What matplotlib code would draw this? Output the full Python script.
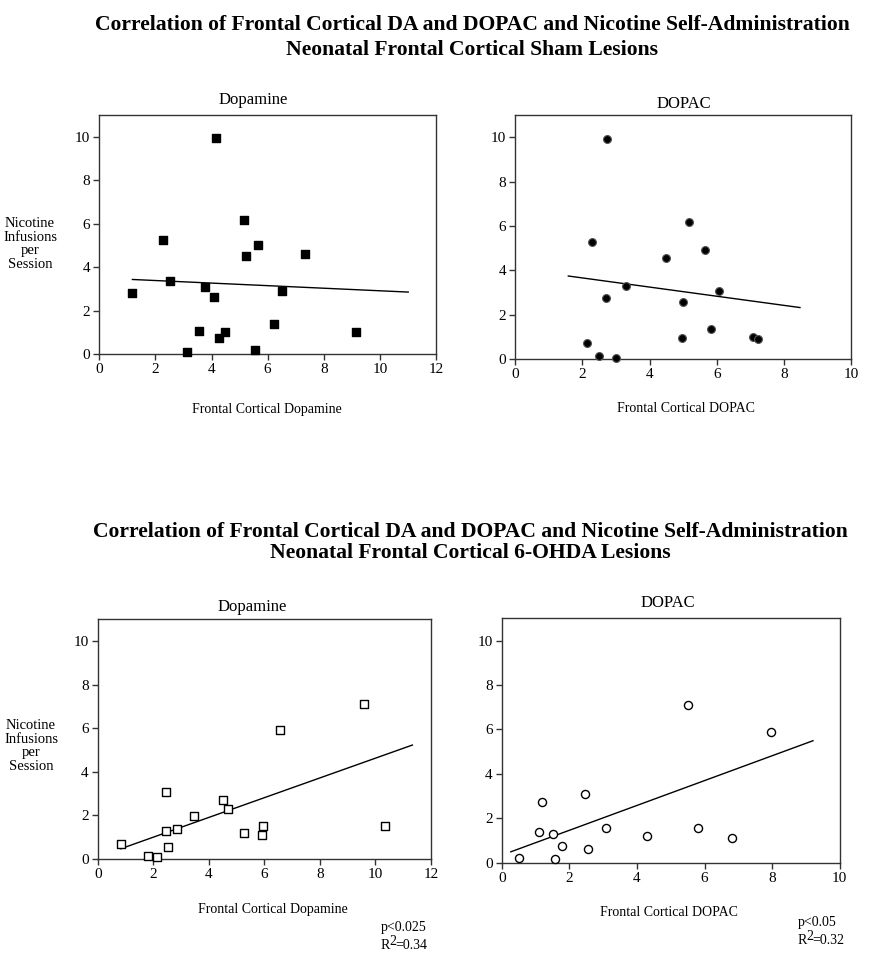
import matplotlib
matplotlib.use("Agg")
import matplotlib.pyplot as plt

plt.rcParams['font.family'] = ['Liberation Serif', 'DejaVu Serif']

# ---------------- data ----------------
# Sham lesions, dopamine
sham_da_x = [1.18, 2.26, 2.52, 3.14, 3.56, 3.78, 4.09, 4.17, 4.25, 4.48,
             5.17, 5.22, 5.56, 5.64, 6.21, 6.51, 7.33, 9.16]
sham_da_y = [2.80, 5.26, 3.35, 0.11, 1.06, 3.08, 2.62, 9.92, 0.72, 1.00,
             6.17, 4.49, 0.18, 5.00, 1.38, 2.89, 4.58, 1.00]
sham_da_fit_x = [1.18, 11.01]
sham_da_fit_y = [3.43, 2.85]

# Sham lesions, DOPAC
sham_dopac_x = [2.72, 2.27, 2.13, 2.50, 3.01, 2.71, 3.30, 4.49, 5.17, 5.00,
                4.98, 5.65, 5.84, 6.08, 7.09, 7.23]
sham_dopac_y = [9.92, 5.27, 0.72, 0.14, 0.08, 2.75, 3.29, 4.55, 6.16, 2.60,
                0.95, 4.94, 1.38, 3.08, 1.01, 0.93]
sham_dopac_fit_x = [1.58, 8.48]
sham_dopac_fit_y = [3.75, 2.33]

# 6-OHDA lesions, dopamine
ohda_da_x = [0.84, 1.81, 2.15, 2.45, 2.45, 2.54, 2.86, 3.46, 4.50, 4.69,
             5.26, 5.92, 5.95, 6.56, 9.58, 10.36]
ohda_da_y = [0.70, 0.15, 0.09, 3.09, 1.28, 0.55, 1.36, 1.98, 2.70, 2.30,
             1.20, 1.08, 1.52, 5.91, 7.13, 1.52]
ohda_da_fit_x = [0.83, 11.33]
ohda_da_fit_y = [0.47, 5.23]

# 6-OHDA lesions, DOPAC
ohda_dopac_x = [0.50, 1.19, 1.10, 1.52, 1.58, 1.79, 2.45, 2.54, 3.09, 4.31,
                5.52, 5.81, 6.81, 7.96]
ohda_dopac_y = [0.19, 2.75, 1.40, 1.28, 0.15, 0.75, 3.07, 0.60, 1.55, 1.22,
                7.09, 1.55, 1.12, 5.90]
ohda_dopac_fit_x = [0.27, 9.21]
ohda_dopac_fit_y = [0.49, 5.49]

title_line1 = "Correlation of Frontal Cortical DA and DOPAC and Nicotine Self-Administration"
title_sham = "Neonatal Frontal Cortical Sham Lesions"
title_ohda = "Neonatal Frontal Cortical 6-OHDA Lesions"
ylabel = "Nicotine\nInfusions\nper\nSession"

W, H = 879, 960
fig = plt.figure(figsize=(W / 100, H / 100), dpi=100)


def rect(l, r, t, b):
    return [l / W, 1 - b / H, (r - l) / W, (b - t) / H]


def ftext(x, y, s, **kw):
    fig.text(x / W, 1 - y / H, s, **kw)


def make_ax(r, xmax):
    ax = fig.add_axes(r)
    ax.set_xlim(0, xmax)
    ax.set_ylim(0, 11)
    ax.set_xticks(range(0, xmax + 1, 2))
    ax.set_yticks(range(0, 11, 2))
    for sp in ax.spines.values():
        sp.set_linewidth(1.0)
        sp.set_color('#333333')
    ax.tick_params(direction='out', length=4.5, width=1.0, color='#333333',
                   labelsize=11, pad=2)
    return ax


# Panel 1
ax1 = make_ax(rect(99.3, 436, 115, 354), 12)
ax1.scatter(sham_da_x, sham_da_y, marker='s', s=30, c='black', zorder=3, clip_on=False)
ax1.plot(sham_da_fit_x, sham_da_fit_y, color='black', lw=1)

# Panel 2
ax2 = make_ax(rect(515.3, 851, 115, 359.3), 10)
ax2.scatter(sham_dopac_x, sham_dopac_y, marker='o', s=32, c='black',
            edgecolors='#555555', linewidths=0.8, zorder=3, clip_on=False)
ax2.plot(sham_dopac_fit_x, sham_dopac_fit_y, color='black', lw=1)

# Panel 3
ax3 = make_ax(rect(97.7, 431, 619.3, 859), 12)
ax3.scatter(ohda_da_x, ohda_da_y, marker='s', s=34, facecolors='white',
            edgecolors='black', linewidths=1.0, zorder=3, clip_on=False)
ax3.plot(ohda_da_fit_x, ohda_da_fit_y, color='black', lw=1)

# Panel 4
ax4 = make_ax(rect(501.7, 839.7, 618.3, 862.7), 10)
ax4.scatter(ohda_dopac_x, ohda_dopac_y, marker='o', s=34, facecolors='white',
            edgecolors='black', linewidths=1.0, zorder=3, clip_on=False)
ax4.plot(ohda_dopac_fit_x, ohda_dopac_fit_y, color='black', lw=1)

# Titles
tkw = dict(ha='center', va='baseline', fontsize=15.6, fontweight='bold')
ftext(472, 30, title_line1, **tkw)
ftext(472, 55, title_sham, **tkw)
ftext(470, 537, title_line1, **tkw)
ftext(470, 558, title_ohda, **tkw)

# Subtitles
skw = dict(ha='center', va='center', fontsize=12)
ftext(253, 100, "Dopamine", **skw)
ftext(684, 104, "DOPAC", **skw)
ftext(252, 607, "Dopamine", **skw)
ftext(668, 603, "DOPAC", **skw)

# Y labels
ykw = dict(ha='center', va='center', fontsize=10.5, linespacing=1.05)
ftext(30, 244, ylabel, **ykw)
ftext(31, 746, ylabel, **ykw)

# X labels
xkw = dict(ha='center', va='center', fontsize=10)
ftext(267, 409, "Frontal Cortical Dopamine", **xkw)
ftext(686, 409, "Frontal Cortical DOPAC", **xkw)
ftext(273, 909, "Frontal Cortical Dopamine", **xkw)
ftext(669, 913, "Frontal Cortical DOPAC", **xkw)

# Stats (R with a full-size raised "2")
pkw = dict(ha='left', va='baseline', fontsize=10)
def stats(x, y, ptxt, rval):
    ftext(x, y, ptxt, **pkw)
    ftext(x, y + 18, "R", **pkw)
    ftext(x + 8, y + 14, "2", **pkw)
    ftext(x + 14.5, y + 18, "=" + rval, **pkw)

stats(381, 931, "p<0.025", "0.34")
stats(798, 926, "p<0.05", "0.32")

fig.savefig("out.png", dpi=100)
